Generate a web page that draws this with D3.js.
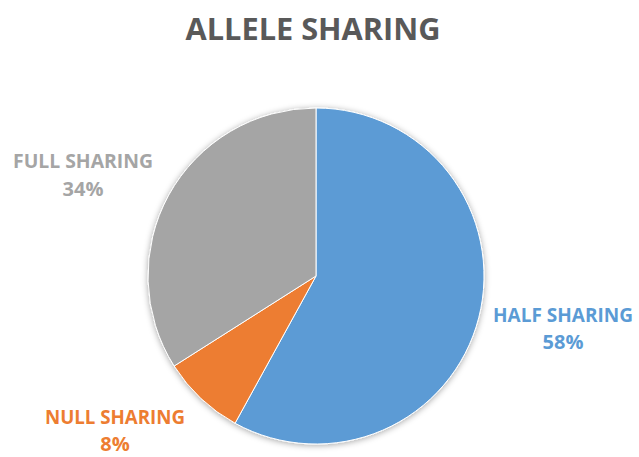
<!DOCTYPE html>
<html>
<head>
<meta charset="utf-8">
<script src="https://cdn.jsdelivr.net/npm/d3@7"></script>
<style>
  body { margin: 0; background: #fff; }
  text { font-family: "Open Sans", sans-serif; font-weight: bold; }
</style>
</head>
<body>
<div id="chart"></div>
<script>
// data
var categories = ["HALF SHARING", "NULL SHARING", "FULL SHARING"];
var values = [58, 8, 34];
var colors = ["#5B9BD5", "#ED7D31", "#A5A5A5"];

var width = 639, height = 457;
var cx = 316, cy = 276, radius = 168;

var svg = d3.select("#chart")
  .append("svg")
  .attr("width", width)
  .attr("height", height);

// soft shadow under the pie
var defs = svg.append("defs");
var f = defs.append("filter").attr("id", "shadow")
  .attr("x", "-20%").attr("y", "-20%").attr("width", "140%").attr("height", "140%");
f.append("feDropShadow")
  .attr("dx", 0).attr("dy", 1).attr("stdDeviation", 3)
  .attr("flood-color", "#000").attr("flood-opacity", 0.35);

// title
svg.append("text")
  .attr("x", 313)
  .attr("y", 40)
  .attr("text-anchor", "middle")
  .attr("fill", "#595959")
  .attr("font-size", 31)
  .attr("textLength", 255)
  .attr("lengthAdjust", "spacingAndGlyphs")
  .text("ALLELE SHARING");

var data = categories.map(function(c, i) { return {name: c, value: values[i], color: colors[i]}; });

var pie = d3.pie().sort(null).value(function(d) { return d.value; });
var arc = d3.arc().innerRadius(0).outerRadius(radius);

var g = svg.append("g")
  .attr("transform", "translate(" + cx + "," + cy + ")");

g.append("g").attr("filter", "url(#shadow)")
  .selectAll("path")
  .data(pie(data))
  .enter()
  .append("path")
  .attr("d", arc)
  .attr("fill", function(d) { return d.data.color; })
  .attr("stroke", "#fff")
  .attr("stroke-width", 1);

// labels (outside positions, placed like the original)
var labelPos = {
  "HALF SHARING": [563, 322, 349],
  "NULL SHARING": [115, 424, 451],
  "FULL SHARING": [83, 168, 196]
};

data.forEach(function(d) {
  var p = labelPos[d.name];
  svg.append("text")
    .attr("x", p[0]).attr("y", p[1])
    .attr("text-anchor", "middle")
    .attr("fill", d.color)
    .attr("font-size", 20)
    .attr("textLength", 140).attr("lengthAdjust", "spacingAndGlyphs")
    .text(d.name);
  svg.append("text")
    .attr("x", p[0]).attr("y", p[2])
    .attr("text-anchor", "middle")
    .attr("fill", d.color)
    .attr("font-size", 20)
    .text(d.value + "%");
});
</script>
</body>
</html>
